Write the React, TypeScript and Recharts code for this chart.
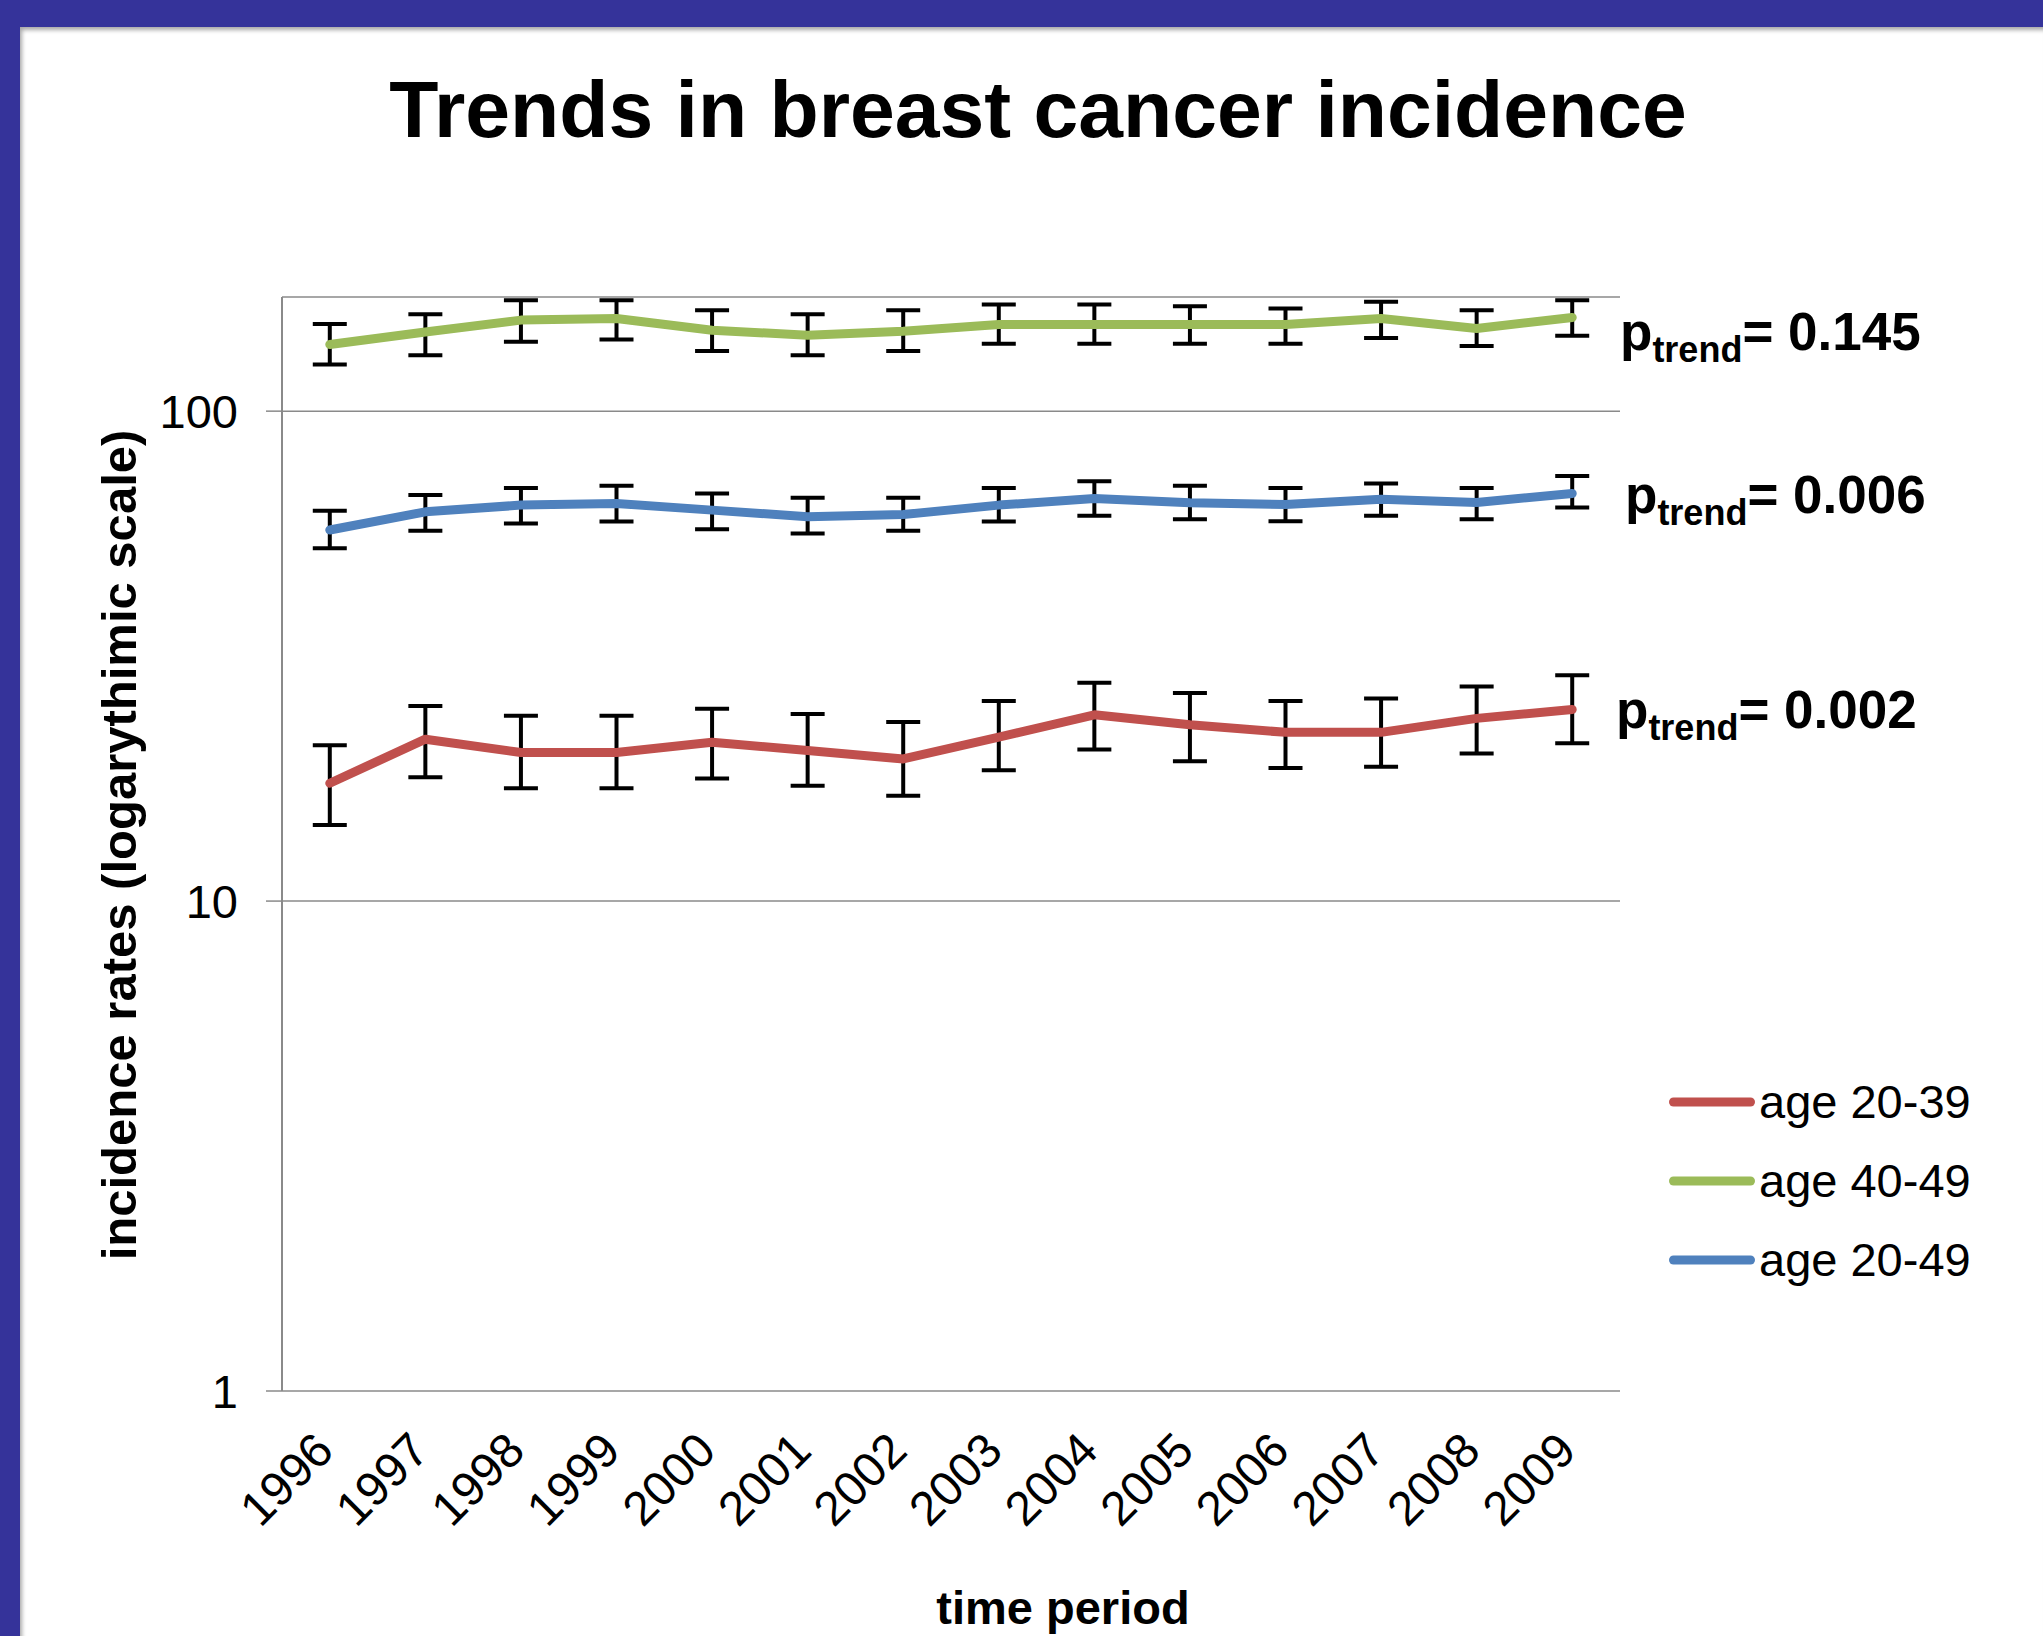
import React from "react";
import {
  LineChart,
  Line,
  XAxis,
  YAxis,
  CartesianGrid,
  ErrorBar,
  Legend,
} from "recharts";

const years = [1996, 1997, 1998, 1999, 2000, 2001, 2002, 2003, 2004, 2005, 2006, 2007, 2008, 2009];

// age 20-39 (rate, lower / upper bound of the error bar)
const age2039 = [17.4, 21.4, 20.1, 20.1, 21.1, 20.3, 19.5, 21.6, 24.0, 22.9, 22.1, 22.1, 23.6, 24.6];
const age2039Low = [14.3, 17.9, 17.0, 17.0, 17.8, 17.2, 16.4, 18.5, 20.4, 19.3, 18.7, 18.8, 20.0, 21.0];
const age2039High = [20.8, 25.0, 23.9, 23.9, 24.7, 24.1, 23.2, 25.6, 27.9, 26.6, 25.6, 25.9, 27.4, 28.9];

// age 40-49
const age4049 = [136.8, 145.1, 153.4, 154.6, 146.3, 142.9, 145.6, 150.3, 150.3, 150.3, 150.3, 154.6, 147.5, 155.3];
const age4049Low = [124.5, 130.1, 138.5, 140.1, 132.6, 130.1, 132.6, 137.2, 137.2, 137.2, 137.2, 141.1, 135.9, 142.5];
const age4049High = [150.7, 157.7, 168.5, 168.5, 160.7, 157.7, 160.7, 165.1, 165.1, 163.8, 162.0, 167.2, 160.7, 168.5];

// age 20-49
const age2049 = [57.2, 62.3, 64.3, 64.8, 62.8, 60.9, 61.5, 64.3, 66.3, 65.0, 64.5, 66.1, 65.1, 67.9];
const age2049Low = [52.5, 57.0, 59.0, 59.5, 57.4, 56.3, 57.0, 59.5, 61.2, 60.2, 59.6, 61.2, 60.2, 63.6];
const age2049High = [62.6, 67.4, 69.7, 70.4, 67.9, 66.6, 66.6, 69.7, 71.9, 70.4, 69.7, 71.2, 69.7, 73.7];

const seriesNames = ["age 20-39", "age 40-49", "age 20-49"];
const yTicks = [1, 10, 100];
const pTrends = ["0.145", "0.006", "0.002"];

const rows = years.map((year, i) => ({
  year,
  a2039: age2039[i],
  a2039Err: [age2039[i] - age2039Low[i], age2039High[i] - age2039[i]],
  a4049: age4049[i],
  a4049Err: [age4049[i] - age4049Low[i], age4049High[i] - age4049[i]],
  a2049: age2049[i],
  a2049Err: [age2049[i] - age2049Low[i], age2049High[i] - age2049[i]],
}));

// tick marks sit between the years, like Excel's category axis
const edgeTicks = [...years.map((y) => y - 0.5), years[years.length - 1] + 0.5];
const xDomain = [edgeTicks[0], edgeTicks[edgeTicks.length - 1]];

const FONT = '"Liberation Sans", Arial, sans-serif';
const AXIS = "#8a8a8a";

const renderLegend = (props: any) => {
  const payload = [...(props.payload || [])].sort(
    (a: any, b: any) => seriesNames.indexOf(a.value) - seriesNames.indexOf(b.value)
  );
  return (
    <div style={{ fontFamily: FONT }}>
      {payload.map((e: any) => (
        <div key={e.value} style={{ display: "flex", alignItems: "center", height: 79 }}>
          <svg width={94} height={14}>
            <line x1={8.5} y1={7} x2={85.5} y2={7} stroke={e.color} strokeWidth={9} strokeLinecap="round" />
          </svg>
          <span style={{ fontSize: 47, color: "#000", lineHeight: 1 }}>{e.value}</span>
        </div>
      ))}
    </div>
  );
};

export default function App() {
  return (
    <div
      style={{
        position: "fixed",
        left: 0,
        top: 0,
        width: 2043,
        height: 1636,
        background: "#35339a",
        overflow: "hidden",
      }}
    >
      <div
        style={{
          position: "absolute",
          left: 20,
          top: 27,
          right: 0,
          bottom: 0,
          background: "#fff",
          boxShadow: "inset 3px 4px 4px -1px rgba(0,0,0,0.35)",
        }}
      />
      <div style={{ position: "absolute", left: 0, top: 0 }}>
        <LineChart
          width={2043}
          height={1636}
          data={rows}
          margin={{ top: 297, right: 423, bottom: 0, left: 82 }}
        >
          <CartesianGrid
            xAxisId="years"
            vertical={false}
            stroke={AXIS}
            strokeWidth={1.5}
          />
          <XAxis
            xAxisId="edges"
            type="number"
            dataKey="year"
            domain={xDomain}
            ticks={edgeTicks}
            tick={false}
            tickLine={{ stroke: AXIS, strokeWidth: 2 }}
            tickSize={14}
            axisLine={{ stroke: AXIS, strokeWidth: 2.5 }}
            height={0}
            allowDataOverflow
          />
          <XAxis
            xAxisId="years"
            type="number"
            dataKey="year"
            domain={xDomain}
            ticks={years}
            interval={0}
            axisLine={false}
            tickLine={false}
            tickSize={0}
            tickMargin={38}
            angle={-45}
            textAnchor="end"
            height={245}
            tick={{ fill: "#000", fontSize: 48, fontFamily: FONT, dx: -18 }}
            allowDataOverflow
          />
          <YAxis
            scale="log"
            domain={[1, 171]}
            ticks={yTicks}
            allowDataOverflow
            width={200}
            tickSize={16}
            tickMargin={28}
            tickLine={{ stroke: AXIS, strokeWidth: 1.5 }}
            axisLine={{ stroke: AXIS, strokeWidth: 2 }}
            tick={{ fill: "#000", fontSize: 47, fontFamily: FONT }}
          />
          <Legend
            layout="vertical"
            align="center"
            verticalAlign="middle"
            itemSorter={(item: any) => seriesNames.indexOf(item.value)}
            wrapperStyle={{ left: 1665, top: 1062, width: 360 }}
            content={renderLegend}
          />
          <Line
            xAxisId="years"
            name={seriesNames[0]}
            dataKey="a2039"
            stroke="#c0504d"
            strokeWidth={9}
            strokeLinejoin="round"
            strokeLinecap="round"
            dot={false}
            isAnimationActive={false}
          >
            <ErrorBar dataKey="a2039Err" direction="y" width={17} stroke="#000" strokeWidth={4} />
          </Line>
          <Line
            xAxisId="years"
            name={seriesNames[1]}
            dataKey="a4049"
            stroke="#9bbb59"
            strokeWidth={9}
            strokeLinejoin="round"
            strokeLinecap="round"
            dot={false}
            isAnimationActive={false}
          >
            <ErrorBar dataKey="a4049Err" direction="y" width={17} stroke="#000" strokeWidth={4} />
          </Line>
          <Line
            xAxisId="years"
            name={seriesNames[2]}
            dataKey="a2049"
            stroke="#4f81bd"
            strokeWidth={9}
            strokeLinejoin="round"
            strokeLinecap="round"
            dot={false}
            isAnimationActive={false}
          >
            <ErrorBar dataKey="a2049Err" direction="y" width={17} stroke="#000" strokeWidth={4} />
          </Line>
        </LineChart>
      </div>
      <svg
        width={2043}
        height={1636}
        style={{ position: "absolute", left: 0, top: 0, pointerEvents: "none" }}
        fontFamily={FONT}
      >
        <text x={1038} y={137} textAnchor="middle" fontSize={80.5} fontWeight="bold" fill="#000">
          Trends in breast cancer incidence
        </text>
        <text
          x={136}
          y={845}
          transform="rotate(-90 136 845)"
          textAnchor="middle"
          fontSize={49}
          fontWeight="bold"
          fill="#000"
        >
          incidence rates (logarythimic scale)
        </text>
        <text x={1063} y={1624} textAnchor="middle" fontSize={47} fontWeight="bold" fill="#000">
          time period
        </text>
        {pTrends.map((p, i) => {
          const pos = [
            [1620, 350],
            [1625, 513],
            [1616, 728],
          ][i];
          return (
            <text key={p} x={pos[0]} y={pos[1]} fontSize={53} fontWeight="bold" fill="#000">
              p
              <tspan fontSize={36} dy={12}>
                trend
              </tspan>
              <tspan dy={-12}>= {p}</tspan>
            </text>
          );
        })}
      </svg>
    </div>
  );
}
